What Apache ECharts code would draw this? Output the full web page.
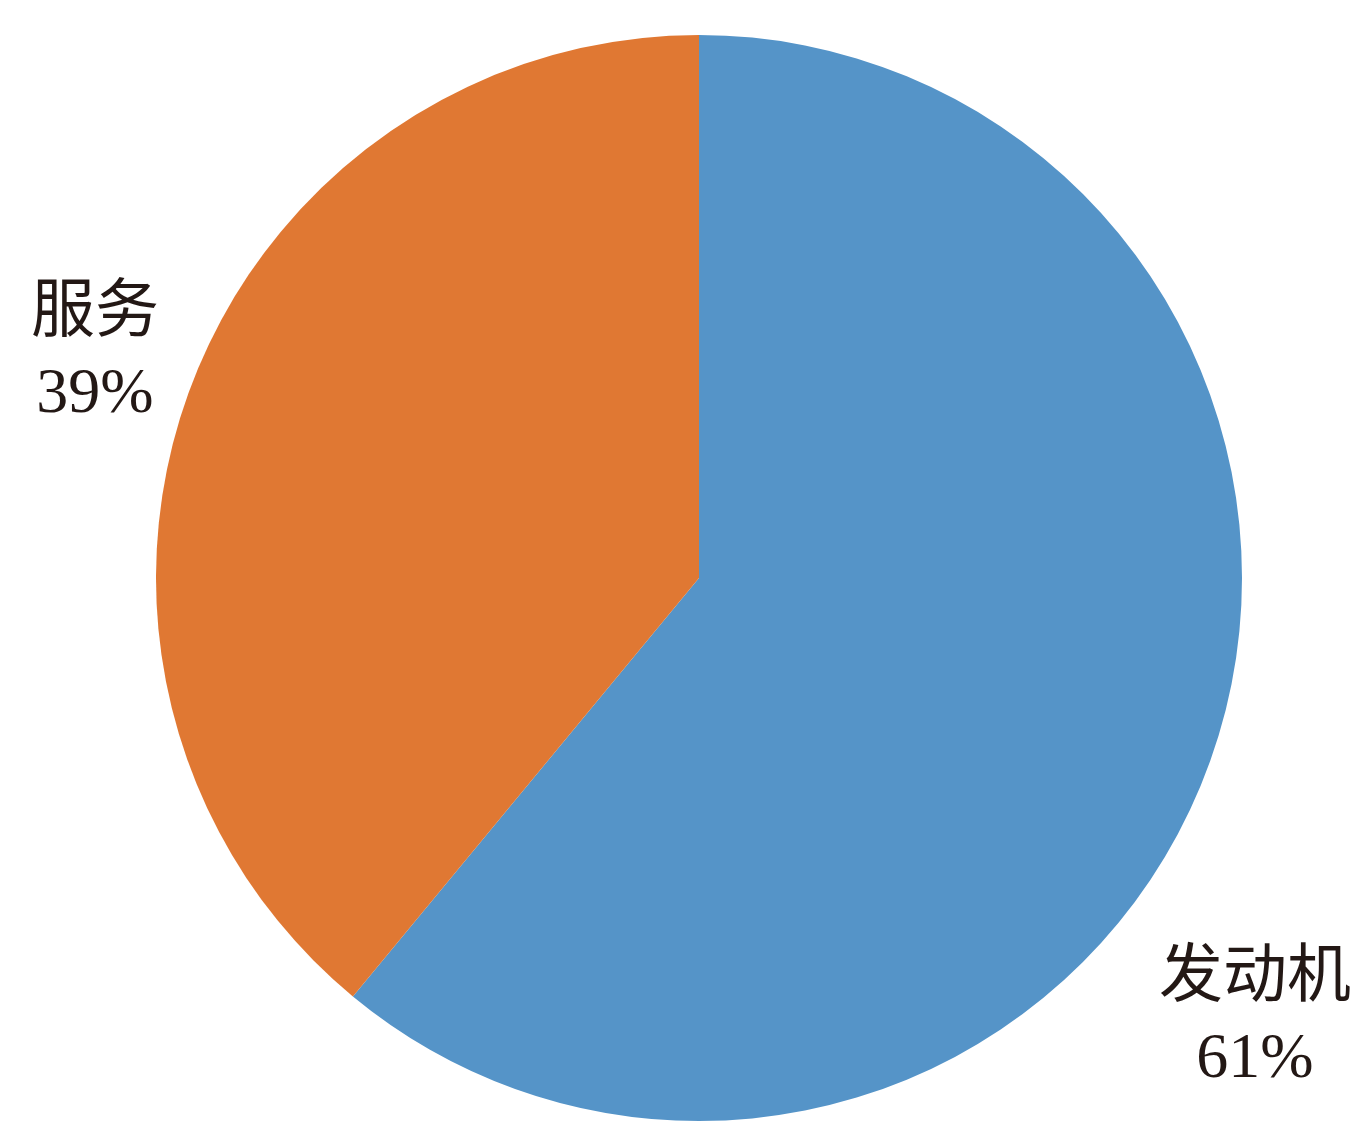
<!DOCTYPE html>
<html>
<head>
<meta charset="utf-8">
<script src="https://cdn.jsdelivr.net/npm/echarts@6/dist/echarts.min.js"></script>
<style>
html,body{margin:0;padding:0;background:#fff;}
#chart{width:1370px;height:1141px;}
</style>
</head>
<body>
<div id="chart"></div>
<script>
var categories = ['发动机', '服务'];
var values = [61, 39];
var colors = ['#5594C8', '#E07833'];

var labelPos = [[1255, 1016], [95, 351]];

var chart = echarts.init(document.getElementById('chart'));
chart.setOption({
  backgroundColor: '#ffffff',
  animation: false,
  series: [{
    type: 'pie',
    center: [699, 578],
    radius: [0, 543],
    startAngle: 90,
    clockwise: true,
    data: categories.map(function (c, i) {
      return { name: c, value: values[i], itemStyle: { color: colors[i] } };
    }),
    itemStyle: { borderWidth: 0 },
    label: {
      show: true,
      overflow: 'none',
      width: 300,
      formatter: function (p) { return '{a|' + p.name + '}\n{b|' + Math.round(p.percent) + '%}'; },
      rich: {
        a: { fontFamily: '"Noto Sans CJK SC", serif', fontSize: 64, lineHeight: 88, color: '#231815', align: 'center' },
        b: { fontFamily: '"Liberation Serif", "Times New Roman", serif', fontSize: 64, lineHeight: 88, color: '#231815', align: 'center' }
      }
    },
    labelLine: { show: false },
    labelLayout: function (params) {
      var p = labelPos[params.dataIndex];
      return { x: p[0], y: p[1], align: 'center', verticalAlign: 'middle' };
    }
  }]
});
</script>
</body>
</html>
